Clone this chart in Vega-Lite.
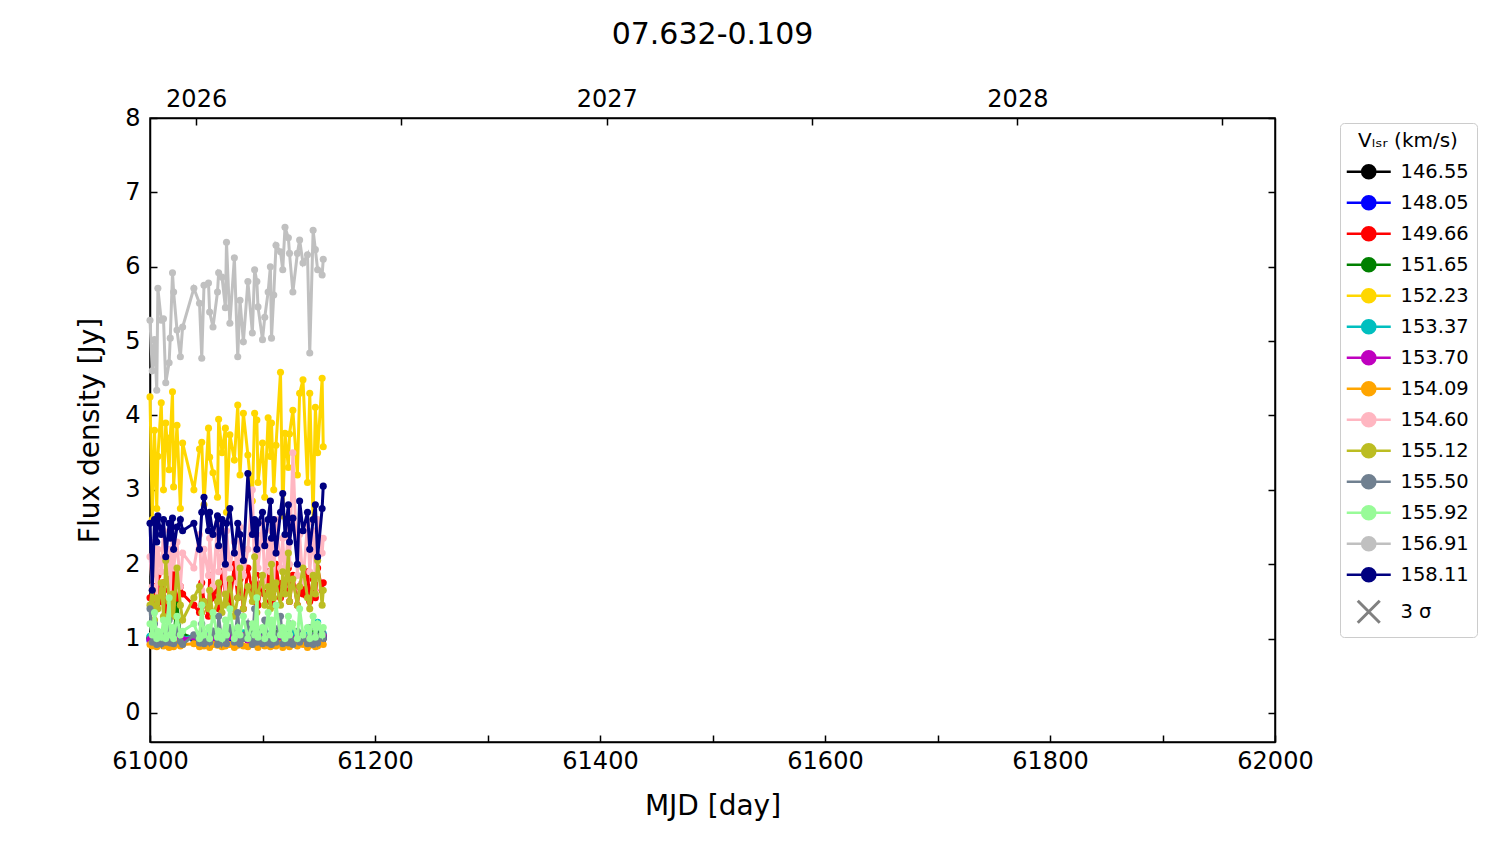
{
  "$schema": "https://vega.github.io/schema/vega-lite/v6.json",
  "width": 1125,
  "height": 624,
  "autosize": {"type": "none"},
  "padding": {"left": 150, "top": 118, "right": 225, "bottom": 102},
  "background": "white",
  "config": {"view": {"stroke": "black", "strokeWidth": 1.5}, "font": "DejaVu Sans"},
  "title": {"text": "07.632-0.109", "fontSize": 30, "fontWeight": "normal", "font": "DejaVu Sans", "color": "black", "anchor": "middle", "frame": "group", "offset": 37},
  "datasets": {
    "series": [
      {"key": "a", "vlsr": "146.55"}, {"key": "b", "vlsr": "148.05"}, {"key": "c", "vlsr": "149.66"},
      {"key": "d", "vlsr": "151.65"}, {"key": "e", "vlsr": "152.23"}, {"key": "f", "vlsr": "153.37"},
      {"key": "g", "vlsr": "153.70"}, {"key": "h", "vlsr": "154.09"}, {"key": "i", "vlsr": "154.60"},
      {"key": "j", "vlsr": "155.12"}, {"key": "k", "vlsr": "155.50"}, {"key": "l", "vlsr": "155.92"},
      {"key": "m", "vlsr": "156.91"}, {"key": "n", "vlsr": "158.11"}
    ],
    "obs": [
      {"t": 61000, "a": 1.00, "b": 0.97, "c": 1.55, "d": 1.02, "e": 4.25, "f": 1.03, "g": 0.99, "h": 0.92, "i": 2.10, "j": 1.45, "k": 1.40, "l": 1.20, "m": 5.28, "n": 2.55},
      {"t": 61002, "a": 1.02, "b": 1.00, "c": 1.40, "d": 1.05, "e": 2.60, "f": 1.00, "g": 1.02, "h": 0.90, "i": 1.70, "j": 1.65, "k": 0.95, "l": 1.05, "m": 4.60, "n": 1.65},
      {"t": 61004, "a": 0.98, "b": 0.99, "c": 1.70, "d": 1.00, "e": 3.80, "f": 1.05, "g": 1.00, "h": 0.93, "i": 2.30, "j": 1.25, "k": 1.20, "l": 1.35, "m": 5.02, "n": 2.60},
      {"t": 61006, "a": 1.03, "b": 1.02, "c": 1.45, "d": 1.08, "e": 2.75, "f": 1.02, "g": 1.04, "h": 0.89, "i": 1.55, "j": 1.55, "k": 0.92, "l": 1.00, "m": 4.34, "n": 2.30},
      {"t": 61007, "a": 0.99, "b": 0.98, "c": 1.85, "d": 1.03, "e": 3.45, "f": 1.07, "g": 0.98, "h": 0.91, "i": 2.20, "j": 1.40, "k": 1.05, "l": 1.10, "m": 5.71, "n": 2.65},
      {"t": 61010, "a": 1.01, "b": 1.01, "c": 1.50, "d": 1.06, "e": 4.17, "f": 1.01, "g": 1.01, "h": 0.94, "i": 1.90, "j": 1.75, "k": 0.93, "l": 1.02, "m": 5.28, "n": 2.40},
      {"t": 61012, "a": 1.04, "b": 0.99, "c": 1.75, "d": 1.01, "e": 3.00, "f": 1.04, "g": 1.03, "h": 0.90, "i": 2.45, "j": 1.30, "k": 1.10, "l": 1.25, "m": 5.30, "n": 2.60},
      {"t": 61014, "a": 0.98, "b": 1.03, "c": 1.35, "d": 1.04, "e": 3.90, "f": 1.00, "g": 0.99, "h": 0.92, "i": 1.75, "j": 2.05, "k": 0.95, "l": 1.00, "m": 4.44, "n": 2.10},
      {"t": 61017, "a": 1.00, "b": 0.97, "c": 1.65, "d": 1.07, "e": 3.27, "f": 1.06, "g": 1.02, "h": 0.88, "i": 2.20, "j": 1.50, "k": 1.25, "l": 1.55, "m": 4.71, "n": 2.55},
      {"t": 61018, "a": 1.02, "b": 1.00, "c": 1.80, "d": 1.02, "e": 3.70, "f": 1.03, "g": 1.00, "h": 0.93, "i": 1.60, "j": 1.35, "k": 0.94, "l": 1.05, "m": 5.04, "n": 2.35},
      {"t": 61020, "a": 0.99, "b": 1.02, "c": 1.50, "d": 1.05, "e": 4.32, "f": 1.01, "g": 1.04, "h": 0.91, "i": 2.50, "j": 1.60, "k": 1.02, "l": 1.15, "m": 5.92, "n": 2.62},
      {"t": 61021, "a": 1.03, "b": 0.98, "c": 1.95, "d": 1.00, "e": 3.04, "f": 1.05, "g": 0.98, "h": 0.89, "i": 1.95, "j": 1.30, "k": 0.93, "l": 1.00, "m": 5.66, "n": 2.20},
      {"t": 61024, "a": 1.01, "b": 1.01, "c": 1.45, "d": 1.45, "e": 3.87, "f": 1.02, "g": 1.01, "h": 0.94, "i": 2.30, "j": 1.95, "k": 1.15, "l": 1.30, "m": 5.15, "n": 2.50},
      {"t": 61027, "a": 0.98, "b": 0.99, "c": 1.70, "d": 1.03, "e": 2.75, "f": 1.08, "g": 1.03, "h": 0.90, "i": 1.70, "j": 1.45, "k": 0.96, "l": 1.05, "m": 4.79, "n": 2.60},
      {"t": 61029, "a": 1.02, "b": 1.03, "c": 1.60, "d": 1.06, "e": 3.63, "f": 1.00, "g": 0.99, "h": 0.92, "i": 2.15, "j": 1.25, "k": 0.92, "l": 1.10, "m": 5.19, "n": 2.45},
      {"t": 61039, "a": 1.00, "b": 0.98, "c": 1.45, "d": 1.01, "e": 3.00, "f": 1.04, "g": 1.02, "h": 0.93, "i": 1.95, "j": 1.55, "k": 1.05, "l": 1.20, "m": 5.71, "n": 2.55},
      {"t": 61044, "a": 1.03, "b": 1.00, "c": 1.35, "d": 1.04, "e": 3.55, "f": 1.01, "g": 1.00, "h": 0.89, "i": 2.40, "j": 1.70, "k": 0.94, "l": 1.00, "m": 5.51, "n": 2.20},
      {"t": 61046, "a": 0.99, "b": 1.02, "c": 1.75, "d": 1.08, "e": 3.64, "f": 1.06, "g": 1.04, "h": 0.91, "i": 1.65, "j": 1.35, "k": 1.20, "l": 1.45, "m": 4.77, "n": 2.70},
      {"t": 61048, "a": 1.01, "b": 0.97, "c": 1.50, "d": 1.02, "e": 2.80, "f": 1.03, "g": 0.98, "h": 0.90, "i": 2.20, "j": 1.50, "k": 0.93, "l": 1.05, "m": 5.75, "n": 2.90},
      {"t": 61052, "a": 0.98, "b": 1.01, "c": 1.30, "d": 1.05, "e": 3.83, "f": 1.00, "g": 1.01, "h": 0.94, "i": 1.85, "j": 1.40, "k": 1.00, "l": 1.15, "m": 5.78, "n": 2.45},
      {"t": 61053, "a": 1.02, "b": 0.99, "c": 1.85, "d": 1.00, "e": 3.44, "f": 1.05, "g": 1.03, "h": 0.88, "i": 2.35, "j": 1.65, "k": 0.95, "l": 1.00, "m": 5.39, "n": 2.70},
      {"t": 61056, "a": 1.00, "b": 1.03, "c": 1.55, "d": 1.07, "e": 3.23, "f": 1.02, "g": 0.99, "h": 0.92, "i": 1.70, "j": 1.30, "k": 1.10, "l": 1.35, "m": 5.19, "n": 2.40},
      {"t": 61060, "a": 1.04, "b": 0.98, "c": 1.70, "d": 1.03, "e": 2.90, "f": 1.07, "g": 1.02, "h": 0.91, "i": 2.55, "j": 1.50, "k": 0.92, "l": 1.02, "m": 5.66, "n": 2.65},
      {"t": 61061, "a": 0.99, "b": 1.00, "c": 1.40, "d": 1.06, "e": 3.95, "f": 1.01, "g": 1.00, "h": 0.93, "i": 1.90, "j": 1.75, "k": 1.30, "l": 1.10, "m": 5.92, "n": 2.25},
      {"t": 61064, "a": 1.01, "b": 1.02, "c": 1.90, "d": 1.01, "e": 3.50, "f": 1.04, "g": 1.04, "h": 0.89, "i": 2.20, "j": 1.35, "k": 0.94, "l": 1.00, "m": 5.86, "n": 2.60},
      {"t": 61067, "a": 1.03, "b": 0.99, "c": 1.60, "d": 1.04, "e": 3.83, "f": 1.00, "g": 0.98, "h": 0.90, "i": 1.60, "j": 1.60, "k": 1.05, "l": 1.25, "m": 5.45, "n": 2.00},
      {"t": 61068, "a": 0.98, "b": 1.01, "c": 1.75, "d": 1.02, "e": 2.70, "f": 1.06, "g": 1.01, "h": 0.94, "i": 2.45, "j": 1.45, "k": 0.93, "l": 1.05, "m": 6.33, "n": 2.55},
      {"t": 61071, "a": 1.00, "b": 0.97, "c": 1.45, "d": 1.08, "e": 3.74, "f": 1.03, "g": 1.03, "h": 0.92, "i": 1.95, "j": 1.80, "k": 1.15, "l": 1.40, "m": 5.24, "n": 2.75},
      {"t": 61075, "a": 1.02, "b": 1.03, "c": 2.00, "d": 1.05, "e": 3.40, "f": 1.01, "g": 0.99, "h": 0.88, "i": 2.30, "j": 1.30, "k": 0.95, "l": 1.00, "m": 6.12, "n": 2.15},
      {"t": 61078, "a": 0.99, "b": 1.00, "c": 1.55, "d": 1.00, "e": 4.14, "f": 1.05, "g": 1.02, "h": 0.91, "i": 1.75, "j": 1.55, "k": 1.35, "l": 1.15, "m": 4.79, "n": 2.55},
      {"t": 61080, "a": 1.03, "b": 0.98, "c": 1.80, "d": 1.03, "e": 3.20, "f": 1.02, "g": 1.00, "h": 0.93, "i": 2.50, "j": 1.95, "k": 0.93, "l": 1.05, "m": 5.55, "n": 2.40},
      {"t": 61083, "a": 1.01, "b": 1.02, "c": 1.40, "d": 1.06, "e": 4.03, "f": 1.08, "g": 1.04, "h": 0.90, "i": 1.85, "j": 1.40, "k": 1.00, "l": 1.30, "m": 4.99, "n": 2.05},
      {"t": 61087, "a": 0.98, "b": 0.99, "c": 1.95, "d": 1.01, "e": 3.47, "f": 1.00, "g": 0.98, "h": 0.89, "i": 2.20, "j": 1.70, "k": 1.20, "l": 1.00, "m": 5.80, "n": 3.22},
      {"t": 61091, "a": 1.02, "b": 1.01, "c": 1.65, "d": 1.07, "e": 2.85, "f": 1.04, "g": 1.01, "h": 0.92, "i": 3.00, "j": 1.50, "k": 0.92, "l": 1.20, "m": 5.11, "n": 2.40},
      {"t": 61093, "a": 1.00, "b": 0.97, "c": 1.50, "d": 1.04, "e": 4.03, "f": 1.01, "g": 1.03, "h": 0.94, "i": 1.80, "j": 2.10, "k": 1.40, "l": 1.05, "m": 5.96, "n": 2.60},
      {"t": 61095, "a": 1.04, "b": 1.00, "c": 1.85, "d": 1.02, "e": 3.94, "f": 1.06, "g": 0.99, "h": 0.91, "i": 2.40, "j": 1.35, "k": 0.95, "l": 1.55, "m": 5.80, "n": 2.20},
      {"t": 61096, "a": 0.99, "b": 1.03, "c": 1.45, "d": 1.05, "e": 3.10, "f": 1.03, "g": 1.02, "h": 0.88, "i": 1.95, "j": 1.60, "k": 1.10, "l": 1.02, "m": 5.46, "n": 2.55},
      {"t": 61100, "a": 1.01, "b": 0.98, "c": 1.75, "d": 1.00, "e": 3.63, "f": 1.00, "g": 1.00, "h": 0.93, "i": 2.55, "j": 1.85, "k": 0.93, "l": 1.15, "m": 5.02, "n": 2.70},
      {"t": 61102, "a": 1.03, "b": 1.01, "c": 1.60, "d": 1.08, "e": 2.90, "f": 1.05, "g": 1.04, "h": 0.90, "i": 1.70, "j": 1.45, "k": 1.25, "l": 1.00, "m": 5.32, "n": 2.25},
      {"t": 61105, "a": 0.98, "b": 0.99, "c": 1.90, "d": 1.03, "e": 3.97, "f": 1.02, "g": 0.98, "h": 0.92, "i": 2.30, "j": 1.70, "k": 0.94, "l": 1.35, "m": 5.66, "n": 2.60},
      {"t": 61107, "a": 1.00, "b": 1.02, "c": 1.50, "d": 1.06, "e": 3.45, "f": 1.07, "g": 1.01, "h": 0.89, "i": 1.90, "j": 1.40, "k": 1.05, "l": 1.05, "m": 6.00, "n": 2.85},
      {"t": 61108, "a": 1.02, "b": 0.97, "c": 1.80, "d": 1.01, "e": 3.90, "f": 1.01, "g": 1.03, "h": 0.94, "i": 2.45, "j": 2.00, "k": 0.92, "l": 1.25, "m": 5.04, "n": 2.35},
      {"t": 61110, "a": 0.99, "b": 1.00, "c": 1.45, "d": 1.04, "e": 3.00, "f": 1.04, "g": 0.99, "h": 0.91, "i": 1.75, "j": 1.55, "k": 1.15, "l": 1.00, "m": 5.62, "n": 2.60},
      {"t": 61112, "a": 1.03, "b": 1.01, "c": 2.00, "d": 1.07, "e": 3.60, "f": 1.00, "g": 1.02, "h": 0.90, "i": 2.60, "j": 1.75, "k": 0.95, "l": 1.45, "m": 6.29, "n": 2.15},
      {"t": 61116, "a": 1.01, "b": 0.99, "c": 1.55, "d": 1.02, "e": 4.58, "f": 1.06, "g": 1.00, "h": 0.93, "i": 1.95, "j": 1.45, "k": 1.30, "l": 1.05, "m": 6.20, "n": 2.70},
      {"t": 61118, "a": 0.98, "b": 1.03, "c": 1.75, "d": 1.05, "e": 2.65, "f": 1.03, "g": 1.04, "h": 0.88, "i": 2.35, "j": 1.90, "k": 0.93, "l": 1.15, "m": 5.96, "n": 2.95},
      {"t": 61120, "a": 1.02, "b": 0.98, "c": 1.65, "d": 1.00, "e": 3.76, "f": 1.01, "g": 0.98, "h": 0.92, "i": 1.80, "j": 1.60, "k": 1.05, "l": 1.00, "m": 6.53, "n": 2.40},
      {"t": 61123, "a": 1.00, "b": 1.00, "c": 1.95, "d": 1.03, "e": 3.30, "f": 1.05, "g": 1.01, "h": 0.91, "i": 2.50, "j": 2.15, "k": 0.94, "l": 1.30, "m": 6.39, "n": 2.80},
      {"t": 61124, "a": 1.03, "b": 1.02, "c": 1.50, "d": 1.06, "e": 3.75, "f": 1.02, "g": 1.03, "h": 0.89, "i": 2.00, "j": 1.50, "k": 1.20, "l": 1.05, "m": 6.18, "n": 2.30},
      {"t": 61127, "a": 0.99, "b": 0.97, "c": 1.85, "d": 1.01, "e": 4.07, "f": 1.08, "g": 0.99, "h": 0.94, "i": 3.50, "j": 1.80, "k": 0.92, "l": 1.20, "m": 5.66, "n": 2.62},
      {"t": 61131, "a": 1.01, "b": 1.01, "c": 1.45, "d": 1.08, "e": 3.20, "f": 1.00, "g": 1.02, "h": 0.90, "i": 1.85, "j": 1.45, "k": 1.10, "l": 1.00, "m": 6.18, "n": 2.00},
      {"t": 61133, "a": 0.98, "b": 0.99, "c": 1.70, "d": 1.04, "e": 4.30, "f": 1.04, "g": 1.00, "h": 0.93, "i": 2.40, "j": 1.70, "k": 0.95, "l": 1.40, "m": 6.36, "n": 2.85},
      {"t": 61136, "a": 1.02, "b": 1.03, "c": 1.60, "d": 1.02, "e": 4.48, "f": 1.01, "g": 1.04, "h": 0.92, "i": 1.75, "j": 1.95, "k": 1.00, "l": 1.05, "m": 6.05, "n": 2.45},
      {"t": 61140, "a": 1.00, "b": 0.98, "c": 1.90, "d": 1.05, "e": 3.10, "f": 1.06, "g": 0.98, "h": 0.88, "i": 2.55, "j": 1.55, "k": 0.93, "l": 1.15, "m": 6.16, "n": 2.70},
      {"t": 61142, "a": 1.04, "b": 1.00, "c": 1.50, "d": 1.00, "e": 4.30, "f": 1.03, "g": 1.01, "h": 0.91, "i": 1.90, "j": 1.40, "k": 1.15, "l": 1.00, "m": 4.84, "n": 2.20},
      {"t": 61145, "a": 0.99, "b": 1.02, "c": 1.80, "d": 1.07, "e": 2.60, "f": 1.00, "g": 1.03, "h": 0.94, "i": 2.45, "j": 1.85, "k": 0.92, "l": 1.30, "m": 6.49, "n": 2.60},
      {"t": 61147, "a": 1.01, "b": 0.99, "c": 1.55, "d": 1.03, "e": 4.11, "f": 1.05, "g": 0.99, "h": 0.89, "i": 1.80, "j": 1.60, "k": 1.05, "l": 1.02, "m": 6.23, "n": 2.80},
      {"t": 61149, "a": 1.03, "b": 1.01, "c": 1.95, "d": 1.06, "e": 3.50, "f": 1.22, "g": 1.02, "h": 0.90, "i": 2.60, "j": 2.05, "k": 0.94, "l": 1.20, "m": 5.96, "n": 2.10},
      {"t": 61153, "a": 0.98, "b": 0.97, "c": 1.65, "d": 1.01, "e": 4.50, "f": 1.02, "g": 1.00, "h": 0.93, "i": 2.15, "j": 1.45, "k": 1.10, "l": 1.05, "m": 5.89, "n": 2.75},
      {"t": 61154, "a": 1.00, "b": 1.02, "c": 1.75, "d": 1.04, "e": 3.58, "f": 1.07, "g": 1.04, "h": 0.92, "i": 2.35, "j": 1.65, "k": 1.00, "l": 1.15, "m": 6.10, "n": 3.05}
    ]
  },
  "data": {"name": "obs"},
  "transform": [
    {"fold": ["a", "b", "c", "d", "e", "f", "g", "h", "i", "j", "k", "l", "m", "n"], "as": ["key", "flux"]},
    {"lookup": "key", "from": {"data": {"name": "series"}, "key": "key", "fields": ["vlsr"]}}
  ],
  "layer": [
    {
      "encoding": {
        "x": {"field": "t", "type": "quantitative",
              "scale": {"domain": [61000, 62000], "nice": false, "zero": false},
              "axis": {"orient": "bottom", "values": [61000, 61100, 61200, 61300, 61400, 61500, 61600, 61700, 61800, 61900, 62000],
                       "labelExpr": "datum.value % 200 === 0 ? datum.label : ''", "format": "d",
                       "grid": false, "tickSize": -7, "tickWidth": 1.5, "tickColor": "black", "domainColor": "black", "domainWidth": 1.5,
                       "labelFont": "DejaVu Sans", "labelFontSize": 24, "labelColor": "black", "labelPadding": 14, "labelFlush": false,
                       "title": "MJD [day]", "titleFont": "DejaVu Sans", "titleFontSize": 28, "titleFontWeight": "normal", "titleColor": "black", "titlePadding": 19}},
        "y": {"field": "flux", "type": "quantitative",
              "scale": {"domain": [-0.39, 8], "nice": false, "zero": false},
              "axis": {"orient": "left", "values": [0, 1, 2, 3, 4, 5, 6, 7, 8], "format": "d",
                       "grid": false, "tickSize": -7, "tickWidth": 1.5, "tickColor": "black", "domainColor": "black", "domainWidth": 1.5,
                       "labelFont": "DejaVu Sans", "labelFontSize": 24, "labelColor": "black", "labelPadding": 17,
                       "title": "Flux density [Jy]", "titleFont": "DejaVu Sans", "titleFontSize": 28, "titleFontWeight": "normal", "titleColor": "black", "titlePadding": 20}},
        "color": {"field": "vlsr", "type": "nominal",
                  "scale": {"domain": ["146.55", "148.05", "149.66", "151.65", "152.23", "153.37", "153.70", "154.09", "154.60", "155.12", "155.50", "155.92", "156.91", "158.11", "3 σ"],
                            "range": ["#000000", "#0000ff", "#ff0000", "#008000", "#ffd700", "#00bfbf", "#bf00bf", "#ffa500", "#ffb6c1", "#bcbd22", "#708090", "#98fb98", "#c0c0c0", "#000080", "#808080"]},
                  "legend": {"orient": "none", "legendX": 1190, "legendY": 5,
                             "title": "Vₗₛᵣ (km/s)", "titleFont": "DejaVu Sans", "titleFontSize": 20, "titleFontWeight": "normal", "titleColor": "black", "titleAnchor": "middle", "titlePadding": 11,
                             "labelFont": "DejaVu Sans", "labelFontSize": 19.5, "labelColor": "black", "labelOffset": 33,
                             "symbolSize": 1936, "symbolStrokeWidth": 2.5, "rowPadding": 7,
                             "strokeColor": "#cccccc", "fillColor": "white", "padding": 8, "cornerRadius": 4,
                             "encode": {"symbols": {"update": {
                               "shape": {"signal": "datum.value === '3 σ' ? 'M0,-0.5L1,0.5M0,0.5L1,-0.5' : 'M-0.5,0L1.5,0M0.2,0A0.3,0.3,0,1,0,0.8,0A0.3,0.3,0,1,0,0.2,0Z'"},
                               "fill": {"signal": "datum.value === '3 σ' ? 'transparent' : scale('color', datum.value)"},
                               "stroke": {"signal": "scale('color', datum.value)"},
                               "strokeWidth": {"signal": "datum.value === '3 σ' ? 3 : 2.5"},
                               "opacity": {"value": 1}
                             }}}}}
      },
      "layer": [
        {"transform": [{"filter": "datum.key === 'a'"}], "mark": {"type": "line", "strokeWidth": 3, "point": {"filled": true, "size": 50, "opacity": 1}}},
        {"transform": [{"filter": "datum.key === 'b'"}], "mark": {"type": "line", "strokeWidth": 3, "point": {"filled": true, "size": 50, "opacity": 1}}},
        {"transform": [{"filter": "datum.key === 'c'"}], "mark": {"type": "line", "strokeWidth": 3, "point": {"filled": true, "size": 50, "opacity": 1}}},
        {"transform": [{"filter": "datum.key === 'd'"}], "mark": {"type": "line", "strokeWidth": 3, "point": {"filled": true, "size": 50, "opacity": 1}}},
        {"transform": [{"filter": "datum.key === 'e'"}], "mark": {"type": "line", "strokeWidth": 3, "point": {"filled": true, "size": 50, "opacity": 1}}},
        {"transform": [{"filter": "datum.key === 'f'"}], "mark": {"type": "line", "strokeWidth": 3, "point": {"filled": true, "size": 50, "opacity": 1}}},
        {"transform": [{"filter": "datum.key === 'g'"}], "mark": {"type": "line", "strokeWidth": 3, "point": {"filled": true, "size": 50, "opacity": 1}}},
        {"transform": [{"filter": "datum.key === 'h'"}], "mark": {"type": "line", "strokeWidth": 3, "point": {"filled": true, "size": 50, "opacity": 1}}},
        {"transform": [{"filter": "datum.key === 'i'"}], "mark": {"type": "line", "strokeWidth": 3, "point": {"filled": true, "size": 50, "opacity": 1}}},
        {"transform": [{"filter": "datum.key === 'j'"}], "mark": {"type": "line", "strokeWidth": 3, "point": {"filled": true, "size": 50, "opacity": 1}}},
        {"transform": [{"filter": "datum.key === 'k'"}], "mark": {"type": "line", "strokeWidth": 3, "point": {"filled": true, "size": 50, "opacity": 1}}},
        {"transform": [{"filter": "datum.key === 'l'"}], "mark": {"type": "line", "strokeWidth": 3, "point": {"filled": true, "size": 50, "opacity": 1}}},
        {"transform": [{"filter": "datum.key === 'm'"}], "mark": {"type": "line", "strokeWidth": 3, "point": {"filled": true, "size": 50, "opacity": 1}}},
        {"transform": [{"filter": "datum.key === 'n'"}], "mark": {"type": "line", "strokeWidth": 3, "point": {"filled": true, "size": 50, "opacity": 1}}}
      ]
    },
    {
      "mark": {"type": "point", "opacity": 0},
      "encoding": {
        "x": {"field": "t", "type": "quantitative",
              "scale": {"domain": [61000, 62000], "nice": false, "zero": false},
              "axis": {"orient": "top", "values": [61041, 61223, 61406, 61588, 61771, 61953],
                       "labelExpr": "datum.value === 61041 ? '2026' : datum.value === 61406 ? '2027' : datum.value === 61771 ? '2028' : ''",
                       "grid": false, "tickSize": -7, "tickWidth": 1.5, "tickColor": "black", "domainColor": "black", "domainWidth": 1.5,
                       "labelFont": "DejaVu Sans", "labelFontSize": 24, "labelColor": "black", "labelPadding": 14, "labelFlush": false, "title": null}},
        "y": {"field": "flux", "type": "quantitative",
              "scale": {"domain": [-0.39, 8], "nice": false, "zero": false},
              "axis": {"orient": "right", "values": [0, 1, 2, 3, 4, 5, 6, 7, 8], "labels": false,
                       "grid": false, "tickSize": -7, "tickWidth": 1.5, "tickColor": "black", "domainColor": "black", "domainWidth": 1.5, "title": null}}
      }
    }
  ],
  "resolve": {"axis": {"x": "independent", "y": "independent"}}
}
